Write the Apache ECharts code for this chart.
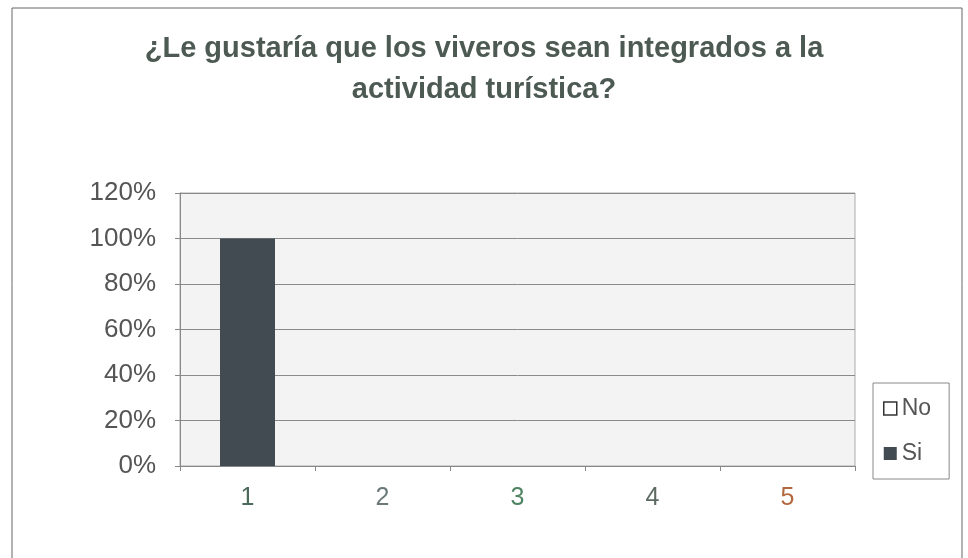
<!DOCTYPE html>
<html>
<head>
<meta charset="utf-8">
<script src="https://cdn.jsdelivr.net/npm/echarts@6/dist/echarts.min.js"></script>
<style>
  html, body { margin: 0; padding: 0; background: #fff; }
  #chart { width: 968px; height: 558px; }
</style>
</head>
<body>
<div id="chart"></div>
<script>
  // data
  let categories = ['1', '2', '3', '4', '5']
  let categoryColors = ['#4b6a5c', '#6b7a78', '#4f8562', '#5c6a62', '#b3683f']
  let siValues = [100, 0, 0, 0, 0]
  let noValues = [0, 0, 0, 0, 0]
  let yTicks = [0, 20, 40, 60, 80, 100, 120]

  let elChart = echarts.init(document.getElementById('chart'))
  let font = '"Liberation Sans", Arial, sans-serif'

  let optionData = {
    animation: false,
    title: {
      text: '¿Le gustaría que los viveros sean integrados a la\nactividad turística?',
      left: 'center',
      top: 23,
      textStyle: {
        fontFamily: font,
        fontSize: 29,
        fontWeight: 'bold',
        color: '#4d5a53',
        lineHeight: 41
      }
    },
    graphic: [
      {
        type: 'rect',
        shape: { x: 12, y: 8, width: 950, height: 560 },
        style: { fill: 'none', stroke: '#666', lineWidth: 1 },
        silent: true
      }
    ],
    legend: {
      orient: 'vertical',
      left: 873,
      top: 383,
      data: [
        { name: 'No', itemStyle: { color: '#ffffff', borderColor: '#333', borderWidth: 1.5 } },
        { name: 'Si' }
      ],
      itemWidth: 13,
      itemHeight: 13,
      itemGap: 22,
      padding: [14, 18, 14, 10],
      borderColor: '#888',
      borderWidth: 1,
      icon: 'rect',
      textStyle: { fontFamily: font, fontSize: 23, color: '#555' }
    },
    grid: {
      left: 180,
      right: 113,
      top: 193,
      bottom: 92,
      show: true,
      backgroundColor: '#f3f3f3',
      borderColor: '#aaa',
      borderWidth: 1
    },
    xAxis: {
      type: 'category',
      data: categories,
      axisLine: { lineStyle: { color: '#888' } },
      axisTick: { show: true, inside: false, length: 5, lineStyle: { color: '#888' } },
      axisLabel: {
        margin: 20,
        fontFamily: font,
        fontSize: 25,
        color: function (value, index) { return categoryColors[index] }
      }
    },
    yAxis: {
      type: 'value',
      min: yTicks[0],
      max: yTicks[yTicks.length - 1],
      interval: 20,
      axisLine: { show: true, lineStyle: { color: '#888' } },
      axisTick: { show: true, length: 5, lineStyle: { color: '#888' } },
      axisLabel: {
        formatter: '{value}%',
        margin: 24,
        fontFamily: font,
        fontSize: 26,
        color: '#555'
      },
      splitLine: { lineStyle: { color: '#8a8a8a', width: 1 } }
    },
    series: [
      {
        name: 'Si',
        type: 'bar',
        stack: 'total',
        barWidth: 55,
        data: siValues,
        itemStyle: { color: '#414b51', borderWidth: 0 }
      },
      {
        name: 'No',
        type: 'bar',
        stack: 'total',
        barWidth: 55,
        data: noValues,
        itemStyle: { color: '#ffffff', borderColor: '#444', borderWidth: 0 }
      }
    ]
  }

  elChart.setOption(optionData)
</script>
</body>
</html>
